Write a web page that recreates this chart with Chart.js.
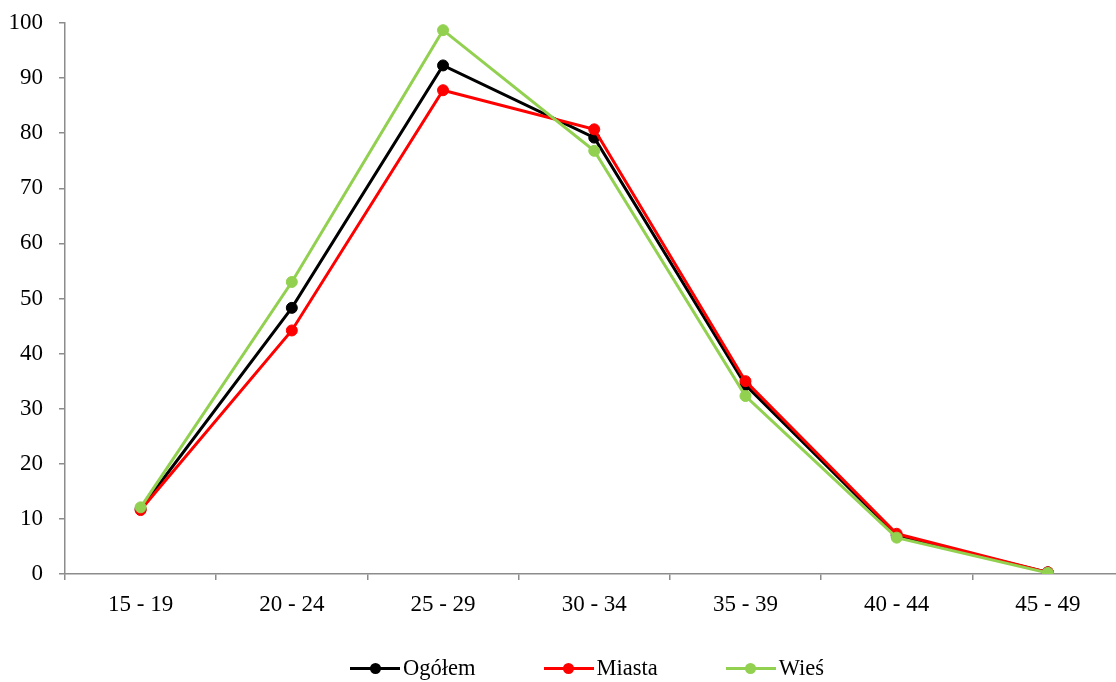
<!DOCTYPE html>
<html>
<head>
<meta charset="utf-8">
<script src="https://cdn.jsdelivr.net/npm/chart.js@4/dist/chart.umd.min.js"></script>
<style>
    html, body { margin: 0; padding: 0; background: #fff; overflow: hidden; }
    #wrap { position: relative; width: 1130px; height: 682px; }
    #legend {
        position: absolute; left: 350px; top: 655px; height: 26px;
        display: flex; align-items: center;
        font-family: 'Liberation Serif', 'Times New Roman', serif; font-size: 22.5px; color: #000;
    }
    .item { display: flex; align-items: center; margin-right: 68px; }
    .mark { position: relative; width: 50px; height: 12px; margin-right: 3px; }
    .mark .ln { position: absolute; left: 0; right: 0; top: 4.5px; height: 3px; }
    .mark .dot { position: absolute; left: 19.5px; top: 0.5px; width: 11px; height: 11px; border-radius: 50%; }
</style>
</head>
<body>
<div id="wrap">
    <canvas id="chart" width="1130" height="682"></canvas>
    <div id="legend"></div>
</div>
<script>
    'use strict';

    // Age groups on the x axis
    const categories = ['15 - 19', '20 - 24', '25 - 29', '30 - 34', '35 - 39', '40 - 44', '45 - 49'];

    // Series values
    const ogolem = [11.8, 48.3, 92.3, 79.2, 34.3, 7.0, 0.3];
    const miasta = [11.6, 44.2, 87.8, 80.7, 35.0, 7.3, 0.3];
    const wies   = [12.1, 53.0, 98.7, 76.8, 32.3, 6.6, 0.2];

    const seriesNames = ['Ogółem', 'Miasta', 'Wieś'];
    const seriesColors = ['#000000', '#ff0000', '#92d050'];

    const axisColor = '#8c8c8c';
    const font = { family: "'Liberation Serif', 'Times New Roman', serif", size: 23 };

    function makeDataset(i, values) {
        return {
            label: seriesNames[i],
            data: values,
            borderColor: seriesColors[i],
            backgroundColor: seriesColors[i],
            borderWidth: 3,
            pointRadius: 5.5,
            pointBorderWidth: 1,
            pointBackgroundColor: seriesColors[i],
            pointBorderColor: seriesColors[i],
            tension: 0,
            order: 2 - i
        };
    }

    const ctx = document.getElementById('chart').getContext('2d');
    const chart = new Chart(ctx, {
        type: 'line',
        data: {
            labels: categories,
            datasets: [makeDataset(0, ogolem), makeDataset(1, miasta), makeDataset(2, wies)]
        },
        options: {
            responsive: false,
            animation: false,
            layout: { padding: { left: 0, top: 23, right: 5, bottom: 68 } },
            plugins: {
                legend: { display: false },
                tooltip: { enabled: false }
            },
            scales: {
                x: {
                    offset: true,
                    grid: {
                        offset: true,
                        drawOnChartArea: false,
                        drawTicks: true,
                        tickLength: 6,
                        color: axisColor,
                        lineWidth: 1.5
                    },
                    border: { color: axisColor, width: 1.5 },
                    ticks: { color: '#000', font: font, padding: 11, maxRotation: 0 },
                    afterFit: function(scale) {
                        scale.height = 40;
                        scale.paddingLeft = 0;
                        scale.paddingRight = 0;
                    }
                },
                y: {
                    min: 0,
                    max: 100,
                    grid: {
                        drawOnChartArea: false,
                        drawTicks: true,
                        tickLength: 6,
                        color: axisColor,
                        lineWidth: 1.5
                    },
                    border: { color: axisColor, width: 1.5 },
                    ticks: { stepSize: 10, color: '#000', font: font, padding: 16 },
                    afterFit: function(scale) {
                        scale.width = 65;
                        scale.paddingTop = 0;
                        scale.paddingBottom = 0;
                    }
                }
            }
        }
    });

    // HTML legend built from the datasets
    const legend = document.getElementById('legend');
    chart.data.datasets.forEach(function(ds) {
        const item = document.createElement('div');
        item.className = 'item';
        item.innerHTML = '<span class="mark"><span class="ln" style="background:' + ds.borderColor +
            '"></span><span class="dot" style="background:' + ds.borderColor + '"></span></span>';
        const txt = document.createElement('span');
        txt.textContent = ds.label;
        item.appendChild(txt);
        legend.appendChild(item);
    });
</script>
</body>
</html>
